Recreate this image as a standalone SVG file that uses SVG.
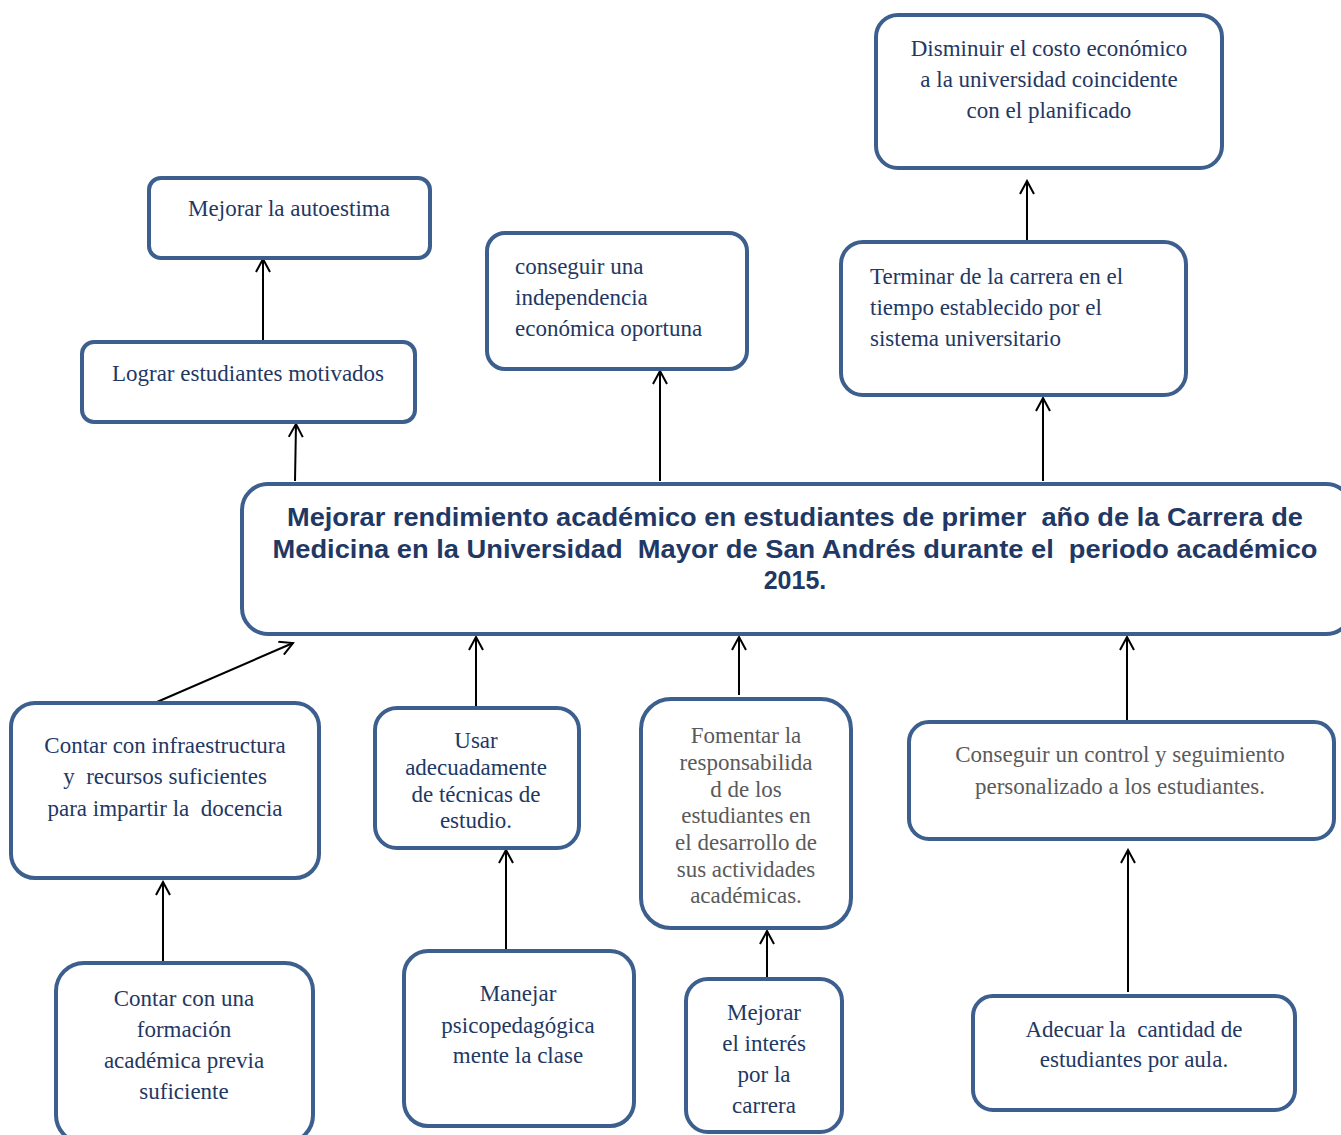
<svg xmlns="http://www.w3.org/2000/svg" width="1341" height="1135" viewBox="0 0 1341 1135">
<defs>
<marker id="ah" markerWidth="16" markerHeight="16" viewBox="-14 -8 16 16" refX="0" refY="0" orient="auto" markerUnits="userSpaceOnUse">
<path d="M-13,-7 L0,0 L-13,7" fill="none" stroke="#000" stroke-width="2"/>
</marker>
<style>
.box{fill:#fff;stroke:#3c5f8e;stroke-width:4}
.t{font-family:"Liberation Serif","Times New Roman",serif;font-size:23px;fill:#1f3864}
.g{fill:#5a5a5a}
.c{text-anchor:middle}
.m{font-family:"Liberation Sans",Arial,sans-serif;font-size:25px;font-weight:bold;fill:#1f3864;text-anchor:middle;white-space:pre}
.a{stroke:#000;stroke-width:2;fill:none;marker-end:url(#ah)}
</style>
</defs>
<rect width="1341" height="1135" fill="#fff"/>
<g id="connectors">
<line class="a" x1="263" y1="342" x2="263" y2="259"/>
<line class="a" x1="295" y1="481" x2="296" y2="424"/>
<line class="a" x1="660" y1="481" x2="660" y2="371"/>
<line class="a" x1="1043" y1="481" x2="1043" y2="398"/>
<line class="a" x1="1027" y1="242" x2="1027" y2="181"/>
<line class="a" x1="150" y1="705" x2="293" y2="643"/>
<line class="a" x1="476" y1="708" x2="476" y2="637"/>
<line class="a" x1="739" y1="695" x2="739" y2="637"/>
<line class="a" x1="1127" y1="722" x2="1127" y2="637"/>
<line class="a" x1="163" y1="963" x2="163" y2="882"/>
<line class="a" x1="506" y1="953" x2="506" y2="850"/>
<line class="a" x1="767" y1="977" x2="767" y2="931"/>
<line class="a" x1="1128" y1="992" x2="1128" y2="850"/>
</g>
<g id="n-disminuir">
<rect class="box" x="876" y="15" width="346" height="153" rx="22"/>
<text class="t c" x="1049" y="56">Disminuir el costo económico</text>
<text class="t c" x="1049" y="87">a la universidad coincidente</text>
<text class="t c" x="1049" y="118">con el planificado</text>
</g>
<g id="n-autoestima">
<rect class="box" x="149" y="178" width="281" height="80" rx="12"/>
<text class="t c" x="289" y="216">Mejorar la autoestima</text>
</g>
<g id="n-independencia">
<rect class="box" x="487" y="233" width="260" height="136" rx="18"/>
<text class="t" x="515" y="274">conseguir una</text>
<text class="t" x="515" y="305">independencia</text>
<text class="t" x="515" y="336">económica oportuna</text>
</g>
<g id="n-terminar">
<rect class="box" x="841" y="242" width="345" height="153" rx="22"/>
<text class="t" x="870" y="284">Terminar de la carrera en el</text>
<text class="t" x="870" y="315">tiempo establecido por el</text>
<text class="t" x="870" y="346">sistema universitario</text>
</g>
<g id="n-lograr">
<rect class="box" x="82" y="342" width="333" height="80" rx="12"/>
<text class="t c" x="248" y="381">Lograr estudiantes motivados</text>
</g>
<g id="n-main">
<rect class="box" x="242" y="484" width="1110" height="150" rx="26"/>
<text class="m" x="795" y="526" textLength="1016" lengthAdjust="spacingAndGlyphs">Mejorar rendimiento académico en estudiantes de primer  año de la Carrera de</text>
<text class="m" x="795" y="558" textLength="1045" lengthAdjust="spacingAndGlyphs">Medicina en la Universidad  Mayor de San Andrés durante el  periodo académico</text>
<text class="m" x="795" y="589">2015.</text>
</g>
<g id="n-infra">
<rect class="box" x="11" y="703" width="308" height="175" rx="24"/>
<text class="t c" x="165" y="753" xml:space="preserve">Contar con infraestructura</text>
<text class="t c" x="165" y="784" xml:space="preserve">y  recursos suficientes</text>
<text class="t c" x="165" y="816" xml:space="preserve">para impartir la  docencia</text>
</g>
<g id="n-usar">
<rect class="box" x="375" y="708" width="204" height="140" rx="22"/>
<text class="t c" x="476" y="748">Usar</text>
<text class="t c" x="476" y="775">adecuadamente</text>
<text class="t c" x="476" y="802">de técnicas de</text>
<text class="t c" x="476" y="828">estudio.</text>
</g>
<g id="n-fomentar">
<rect class="box" x="641" y="699" width="210" height="229" rx="30"/>
<text class="t c g" x="746" y="743">Fomentar la</text>
<text class="t c g" x="746" y="770">responsabilida</text>
<text class="t c g" x="746" y="797">d de los</text>
<text class="t c g" x="746" y="823">estudiantes en</text>
<text class="t c g" x="746" y="850">el desarrollo de</text>
<text class="t c g" x="746" y="877">sus actividades</text>
<text class="t c g" x="746" y="903">académicas.</text>
</g>
<g id="n-control">
<rect class="box" x="909" y="722" width="425" height="117" rx="20"/>
<text class="t c g" x="1120" y="762">Conseguir un control y seguimiento</text>
<text class="t c g" x="1120" y="794">personalizado a los estudiantes.</text>
</g>
<g id="n-formacion">
<rect class="box" x="56" y="963" width="257" height="180" rx="28"/>
<text class="t c" x="184" y="1006">Contar con una</text>
<text class="t c" x="184" y="1037">formación</text>
<text class="t c" x="184" y="1068">académica previa</text>
<text class="t c" x="184" y="1099">suficiente</text>
</g>
<g id="n-manejar">
<rect class="box" x="404" y="951" width="230" height="175" rx="24"/>
<text class="t c" x="518" y="1001">Manejar</text>
<text class="t c" x="518" y="1033">psicopedagógica</text>
<text class="t c" x="518" y="1063">mente la clase</text>
</g>
<g id="n-interes">
<rect class="box" x="686" y="979" width="156" height="153" rx="22"/>
<text class="t c" x="764" y="1020">Mejorar</text>
<text class="t c" x="764" y="1051">el interés</text>
<text class="t c" x="764" y="1082">por la</text>
<text class="t c" x="764" y="1113">carrera</text>
</g>
<g id="n-adecuar">
<rect class="box" x="973" y="996" width="322" height="114" rx="20"/>
<text class="t c" x="1134" y="1037" xml:space="preserve">Adecuar la  cantidad de</text>
<text class="t c" x="1134" y="1067">estudiantes por aula.</text>
</g>
</svg>
